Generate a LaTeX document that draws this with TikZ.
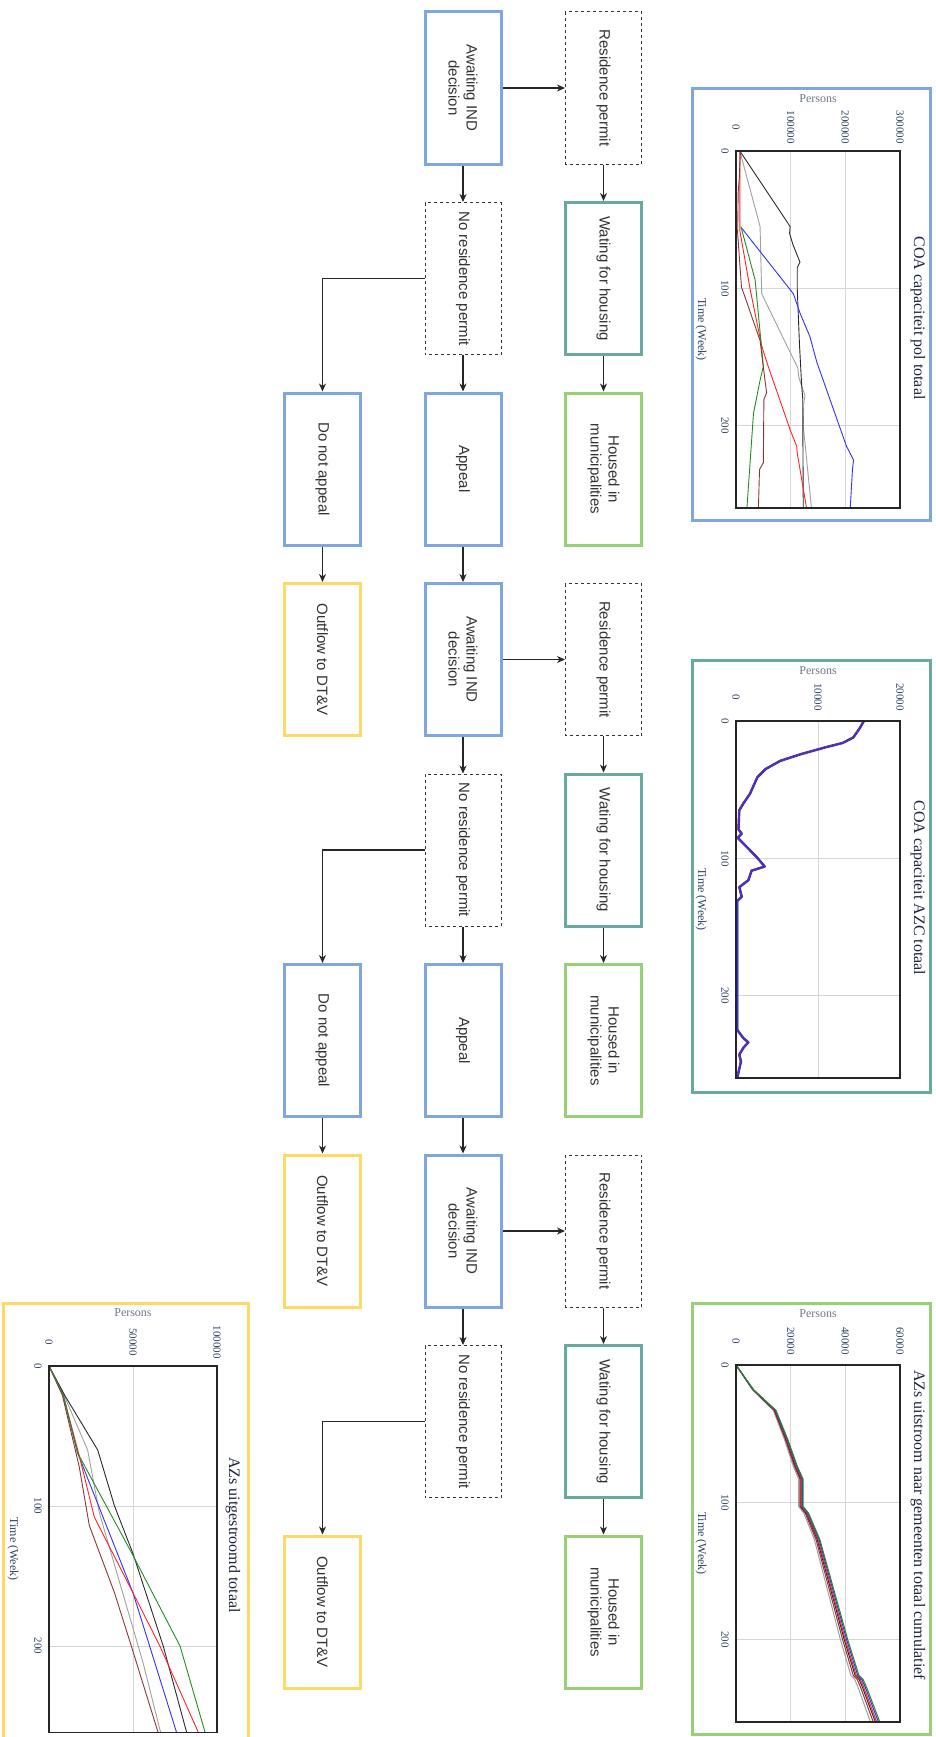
\documentclass[tikz,border=0pt]{standalone}
\usepackage{fontspec}
\setmainfont{Liberation Serif}
\newfontfamily\boxfont{Liberation Sans}
\usetikzlibrary{arrows.meta}

\definecolor{ioblue}{HTML}{7EA6E0}
\definecolor{ioteal}{HTML}{67AB9F}
\definecolor{iogreen}{HTML}{97D077}
\definecolor{ioyellow}{HTML}{FFD966}
\definecolor{boxtext}{HTML}{333333}
\definecolor{arrowgray}{HTML}{262626}
\definecolor{ticktext}{HTML}{2E4266}
\definecolor{titletext}{HTML}{1B2440}
\definecolor{unitgray}{HTML}{707588}
\definecolor{gridgray}{HTML}{D6D6D6}
\definecolor{simblue}{HTML}{3030FF}
\definecolor{simred}{HTML}{FF2424}
\definecolor{simgreen}{HTML}{1F8F1F}
\definecolor{simgray}{HTML}{A0A0A0}
\definecolor{simblack}{HTML}{2A2A2A}
\definecolor{simbrown}{HTML}{8E3434}

\begin{document}
\begin{tikzpicture}[x=1pt,y=-1pt,
  flowbox/.style={rectangle, rotate=-90, minimum width=152pt, minimum height=76pt,
    line width=3pt, align=center, fill=white, text=boxtext,
    font=\boxfont\fontsize{15}{18}\selectfont},
  bluebox/.style={flowbox, draw=ioblue},
  tealbox/.style={flowbox, draw=ioteal},
  greenbox/.style={flowbox, draw=iogreen},
  yellowbox/.style={flowbox, draw=ioyellow},
  permitbox/.style={flowbox, line width=1pt, draw=boxtext, dash pattern=on 3pt off 3pt},
  arr/.style={draw=arrowgray, line width=1.1pt, -{Stealth[length=8pt,width=7pt,inset=2.5pt]}},
  chartborder/.style={line width=3pt},
  plotframe/.style={draw=black!85, line width=1.3pt},
  grid/.style={draw=gridgray, line width=0.8pt},
  simline/.style={line width=0.9pt, line join=round},
  tick/.style={rotate=-90, inner sep=0pt, text=ticktext, font=\fontsize{11}{12}\selectfont},
  unitlbl/.style={inner sep=0pt, text=unitgray, font=\fontsize{12}{13}\selectfont},
  axislbl/.style={rotate=-90, inner sep=0pt, text=ticktext, font=\fontsize{12}{14}\selectfont},
  charttitle/.style={rotate=-90, inner sep=0pt, text=titletext, font=\fontsize{16}{18}\selectfont}
]
\useasboundingbox (0,0) rectangle (936,1737);
\clip (0,0) rectangle (936,1737);

% ---------------- flow chart ----------------
% columns: 322.5 / 463 / 603.5 ; rows step 190.5
\node[bluebox]   (aw1)  at (463,88)     {Awaiting IND\\decision};
\node[permitbox] (rp1)  at (603.5,88)   {Residence permit};
\node[tealbox]   (wh1)  at (603.5,278.5){Wating for housing};
\node[permitbox] (nrp1) at (463,278.5)  {No residence permit};
\node[greenbox]  (ho1)  at (603.5,469)  {Housed in\\municipalities};
\node[bluebox]   (ap1)  at (463,469)    {Appeal};
\node[bluebox]   (dna1) at (322.5,469)  {Do not appeal};
\node[yellowbox] (out1) at (322.5,659.5){Outflow to DT\&V};
\node[bluebox]   (aw2)  at (463,659.5)  {Awaiting IND\\decision};
\node[permitbox] (rp2)  at (603.5,659.5){Residence permit};

\node[tealbox]   (wh2)  at (603.5,850)  {Wating for housing};
\node[permitbox] (nrp2) at (463,850)    {No residence permit};
\node[greenbox]  (ho2)  at (603.5,1040.5){Housed in\\municipalities};
\node[bluebox]   (ap2)  at (463,1040.5) {Appeal};
\node[bluebox]   (dna2) at (322.5,1040.5){Do not appeal};
\node[yellowbox] (out2) at (322.5,1231) {Outflow to DT\&V};
\node[bluebox]   (aw3)  at (463,1231)   {Awaiting IND\\decision};
\node[permitbox] (rp3)  at (603.5,1231) {Residence permit};

\node[tealbox]   (wh3)  at (603.5,1421.5){Wating for housing};
\node[permitbox] (nrp3) at (463,1421.5) {No residence permit};
\node[greenbox]  (ho3)  at (603.5,1612) {Housed in\\municipalities};
\node[yellowbox] (out3) at (322.5,1612) {Outflow to DT\&V};

\draw[arr] (aw1) -- (rp1);
\draw[arr] (rp1) -- (wh1);
\draw[arr] (wh1) -- (ho1);
\draw[arr] (aw1) -- (nrp1);
\draw[arr] (nrp1) -- (ap1);
\draw[arr] (nrp1) -| (dna1);
\draw[arr] (dna1) -- (out1);
\draw[arr] (ap1) -- (aw2);
\draw[arr] (aw2) -- (rp2);
\draw[arr] (rp2) -- (wh2);
\draw[arr] (wh2) -- (ho2);
\draw[arr] (aw2) -- (nrp2);
\draw[arr] (nrp2) -- (ap2);
\draw[arr] (nrp2) -| (dna2);
\draw[arr] (dna2) -- (out2);
\draw[arr] (ap2) -- (aw3);
\draw[arr] (aw3) -- (rp3);
\draw[arr] (rp3) -- (wh3);
\draw[arr] (wh3) -- (ho3);
\draw[arr] (aw3) -- (nrp3);
\draw[arr] (nrp3) -| (out3);

% ---------------- chart: COA capaciteit pol totaal ----------------
\draw[chartborder, draw=ioblue] (692,88) rectangle (930,520);
\begin{scope}[shift={(736,151)}, x={(0pt,-1.373pt)}, y={(0.5467pt,0pt)}]
  \draw[grid] (100,0) -- (100,300) (200,0) -- (200,300);
  \draw[grid] (0,100) -- (260,100) (0,200) -- (260,200);
  \draw[simline, simgray]  (0,7) -- (55,44) -- (104,47) -- (158,113) -- (165,115) -- (178,126) -- (184,124) -- (200,123) -- (260,138);
  \draw[simline, simblack] (0,7) -- (55,99) -- (60,98) -- (68,104) -- (81,117) -- (85,112) -- (100,112) -- (140,116) -- (170,120) -- (180,122) -- (260,123);
  \draw[simline, simblue]  (56,10) -- (104,105) -- (118,117) -- (135,135) -- (154,148) -- (215,202) -- (225,215) -- (232,213) -- (260,209);
  \draw[simline, simred]   (0,7) -- (58,7) -- (101,26) -- (142,47) -- (157,59) -- (203,99) -- (215,111) -- (220,112) -- (260,129);
  \draw[simline, simgreen] (55,9) -- (94,35) -- (157,50) -- (167,44) -- (191,32) -- (260,20);
  \draw[simline, simbrown] (0,8) -- (20,6) -- (30,4) -- (60,3) -- (99,10) -- (138,44) -- (167,53) -- (176,56) -- (181,51) -- (227,50) -- (232,43) -- (260,41);
  \draw[plotframe] (0,0) rectangle (260,300);
\end{scope}
\node[unitlbl] (u1) at (818,99) {Persons};
\node[tick] (p1a) at (736,127) {0};
\node[tick] (p1b) at (790.7,127) {100000};
\node[tick] (p1c) at (845.3,127) {200000};
\node[tick] (p1d) at (900,127) {300000};
\node[tick] (t1a) at (725,151) {0};
\node[tick] (t1b) at (725,288.3) {100};
\node[tick] (t1c) at (725,425.6) {200};
\node[axislbl] (x1) at (701,329.5) {Time (Week)};
\node[charttitle] (c1) at (918,318) {COA capaciteit pol totaal};

% ---------------- chart: COA capaciteit AZC totaal ----------------
\draw[chartborder, draw=ioteal] (692,660) rectangle (930,1092);
\begin{scope}[shift={(736,721)}, x={(0pt,-1.373pt)}, y={(8.2pt,0pt)}]
  \draw[grid] (100,0) -- (100,20) (200,0) -- (200,20);
  \draw[grid] (0,10) -- (260,10);
  \foreach \c/\w/\d in {simblack/2.4pt/0, simred/1.5pt/-0.12, simblue/1.4pt/0.1}{
    \draw[simline, \c, line width=\w, xshift=\d pt]
      (0,15.6) -- (3,15.3) -- (6,15.0) -- (12,14.3) -- (16,13) -- (19,11) -- (24,8) -- (29,5.4)
      -- (35,3.6) -- (41,2.6) -- (53,1.7) -- (60,0.9) -- (65,0.4) -- (79,0.3) -- (82,0.7)
      -- (85,0.2) -- (99,2.5) -- (106,3.5) -- (109,1.9) -- (116,1.5) -- (121,0.4) -- (128,0.7)
      -- (131,0.15) -- (225,0.15) -- (231,0.9) -- (234,1.5) -- (238,0.9) -- (243,0.4)
      -- (248,0.6) -- (260,0.15);
  }
  \draw[plotframe] (0,0) rectangle (260,20);
\end{scope}
\node[unitlbl] (u2) at (818,671) {Persons};
\node[tick] (p2a) at (736,697) {0};
\node[tick] (p2b) at (818,697) {10000};
\node[tick] (p2c) at (900,697) {20000};
\node[tick] (t2a) at (725,721) {0};
\node[tick] (t2b) at (725,858.3) {100};
\node[tick] (t2c) at (725,995.6) {200};
\node[axislbl] (x2) at (701,899.5) {Time (Week)};
\node[charttitle] (c2) at (918,888) {COA capaciteit AZC totaal};

% ---------------- chart: AZs uitstroom naar gemeenten totaal cumulatief ----------------
\draw[chartborder, draw=iogreen] (692,1303) rectangle (930,1734);
\begin{scope}[shift={(736,1365)}, x={(0pt,-1.373pt)}, y={(2.7333pt,0pt)}]
  \draw[grid] (100,0) -- (100,60) (200,0) -- (200,60);
  \draw[grid] (0,20) -- (260,20) (0,40) -- (260,40);
\end{scope}
\foreach \c/\f in {simgray/0.955, simbrown/0.975, simblack/0.99, simred/1.0, simblue/1.012, simgreen/1.022}{
  \begin{scope}[shift={(736,1365)}, x={(0pt,-1.373pt)}, y={({\f*2.7333pt},0pt)}]
    \draw[simline, \c, line width=1pt]
      (0,0) -- (18,6.3) -- (33,14.3) -- (54,18.5) -- (74,22) -- (83,24) -- (103,24) -- (108,26)
      -- (127,30) -- (200,40) -- (226,44) -- (229,45.5) -- (234,46.6) -- (260,51.5);
  \end{scope}
}
\begin{scope}[shift={(736,1365)}, x={(0pt,-1.373pt)}, y={(2.7333pt,0pt)}]
  \draw[plotframe] (0,0) rectangle (260,60);
\end{scope}
\node[unitlbl] (u3) at (818,1314) {Persons};
\node[tick] (p3a) at (736,1341) {0};
\node[tick] (p3b) at (790.7,1341) {20000};
\node[tick] (p3c) at (845.3,1341) {40000};
\node[tick] (p3d) at (900,1341) {60000};
\node[tick] (t3a) at (725,1365) {0};
\node[tick] (t3b) at (725,1502.3) {100};
\node[tick] (t3c) at (725,1639.6) {200};
\node[axislbl] (x3) at (701,1543.5) {Time (Week)};
\node[charttitle] (c3) at (918,1525) {AZs uitstroom naar gemeenten totaal cumulatief};

% ---------------- chart: AZs uitgestroomd totaal ----------------
\draw[chartborder, draw=ioyellow] (3,1303) rectangle (248,1760);
\begin{scope}[shift={(49,1366)}, x={(0pt,-1.40pt)}, y={(1.68pt,0pt)}]
  \draw[grid] (100,0) -- (100,100) (200,0) -- (200,100);
  \draw[grid] (0,50) -- (262,50);
  \draw[simline, simgray]  (0,0) -- (21,9) -- (60,23) -- (105,30) -- (212,56) -- (262,66.5);
  \draw[simline, simbrown] (0,0) -- (21,8) -- (72,18) -- (114,24) -- (162,39) -- (200,49) -- (262,65);
  \draw[simline, simblack] (0,0) -- (21,9.4) -- (60,29) -- (100,39) -- (134,50) -- (200,68) -- (262,82);
  \draw[simline, simblue]  (0,0) -- (21,8.5) -- (62,17) -- (162,50) -- (262,76);
  \draw[simline, simred]   (0,0) -- (21,8.5) -- (64,18) -- (108,27) -- (162,50) -- (200,66) -- (262,89);
  \draw[simline, simgreen] (0,0) -- (21,8.5) -- (62,17) -- (133,49) -- (200,78) -- (262,93);
  \draw[plotframe] (0,0) rectangle (262,100);
\end{scope}
\node[unitlbl] (u4) at (133,1313) {Persons};
\node[tick] (p4a) at (49,1342) {0};
\node[tick] (p4b) at (133,1342) {50000};
\node[tick] (p4c) at (217,1342) {100000};
\node[tick] (t4a) at (38,1366) {0};
\node[tick] (t4b) at (38,1506) {100};
\node[tick] (t4c) at (38,1646) {200};
\node[axislbl] (x4) at (13,1549) {Time (Week)};
\node[charttitle] (c4) at (233,1535) {AZs uitgestroomd totaal};

\end{tikzpicture}
\end{document}
